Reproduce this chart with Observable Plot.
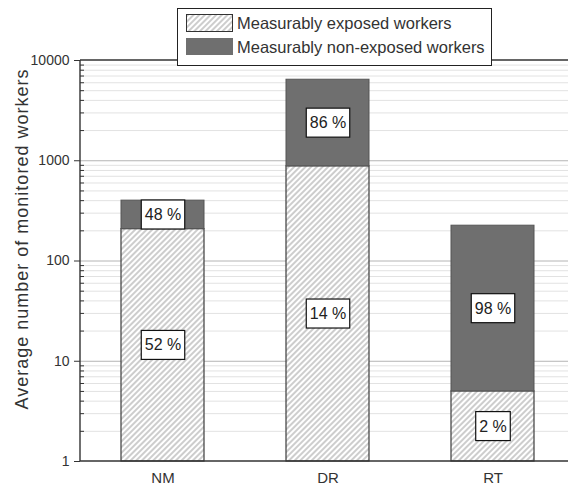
<!DOCTYPE html>
<html>
<head>
<meta charset="utf-8">
<script src="https://cdn.jsdelivr.net/npm/d3@7"></script>
<script src="https://cdn.jsdelivr.net/npm/@observablehq/plot@0.6"></script>
<style>
  body { margin: 0; background: #fff; font-family: "Liberation Sans", Arial, sans-serif; }
  #chart { position: relative; width: 568px; height: 487px; }
  .legend {
    position: absolute; left: 177px; top: 8px; width: 313px; height: 56px;
    border: 1.5px solid #222; background: #fff; color: #333;
  }
  .legend .key { position: absolute; left: 7.5px; }
  .legend .name { position: absolute; left: 59px; font-size: 16.5px; line-height: 20px; white-space: nowrap; }
</style>
</head>
<body>
<div id="chart"></div>
<script>
// Average number of monitored workers per sector, split into
// measurably exposed and measurably non-exposed workers.
const categories = ["NM", "DR", "RT"];
const exposed = [208, 880, 5];
const nonExposed = [192, 5550, 220];
const seriesNames = ["Measurably exposed workers", "Measurably non-exposed workers"];
const yTicks = [1, 10, 100, 1000, 10000];
const yLabel = "Average number of monitored workers";

const darkFill = "#6f6f6f";
const hatchStroke = "#9c9c9c";

// minor gridline values: 2..9 within each decade
const minorTicks = [];
for (let e = 0; e < 4; e++) for (let m = 2; m <= 9; m++) minorTicks.push(m * 10 ** e);

// one record per stacked segment; exposed sits on the axis baseline (1)
const segments = categories.flatMap((cat, i) => {
  const total = exposed[i] + nonExposed[i];
  return [
    {cat, series: seriesNames[0], y1: 1, y2: exposed[i], share: Math.round(100 * exposed[i] / total)},
    {cat, series: seriesNames[1], y1: exposed[i], y2: total, share: Math.round(100 * nonExposed[i] / total)}
  ];
});

function hatchPattern(id) {
  const defs = d3.create("svg:defs");
  const p = defs.append("pattern")
    .attr("id", id)
    .attr("patternUnits", "userSpaceOnUse")
    .attr("width", 4).attr("height", 4)
    .attr("patternTransform", "rotate(45)");
  p.append("rect").attr("width", 4).attr("height", 4).attr("fill", "#fff");
  p.append("line").attr("x1", 2).attr("x2", 2).attr("y1", 0).attr("y2", 4)
    .attr("stroke", hatchStroke).attr("stroke-width", 1);
  return defs;
}

// left axis line plus top and bottom frame lines
function frameLines(index, scales, values, dims) {
  const g = d3.create("svg:g").attr("stroke", "#333").attr("stroke-width", 1.4).attr("fill", "none");
  const x0 = dims.marginLeft, x1 = dims.width;
  const yTop = scales.y(yTicks[yTicks.length - 1]), yBot = scales.y(yTicks[0]);
  g.append("line").attr("x1", x0).attr("x2", x1).attr("y1", yTop).attr("y2", yTop);
  g.append("line").attr("x1", x0).attr("x2", x1).attr("y1", yBot).attr("y2", yBot);
  g.append("line").attr("x1", x0).attr("x2", x0).attr("y1", yTop).attr("y2", yBot);
  return g.node();
}

const chart = Plot.plot({
  width: 568,
  height: 487,
  marginTop: 60,
  marginBottom: 26,
  marginLeft: 80,
  marginRight: 0,
  style: {fontFamily: "'Liberation Sans', Arial, sans-serif", color: "#333", background: "#fff", overflow: "visible"},
  x: {domain: categories, range: [80, 575], paddingInner: 0.5, paddingOuter: 0.25},
  y: {type: "log", domain: [yTicks[0], yTicks[yTicks.length - 1]]},
  marks: [
    () => hatchPattern("hatch").node(),
    Plot.ruleY(minorTicks, {stroke: "#e2e2e2", strokeWidth: 1}),
    Plot.ruleY(yTicks.slice(1, -1), {stroke: "#b4b4b4", strokeWidth: 1}),
    Plot.barY(segments.filter(d => d.series === seriesNames[0]), {
      x: "cat", y1: "y1", y2: "y2", fill: "url(#hatch)", stroke: "#3c3c3c", strokeWidth: 1.2
    }),
    Plot.barY(segments.filter(d => d.series === seriesNames[1]), {
      x: "cat", y1: "y1", y2: "y2", fill: darkFill, stroke: "#555", strokeWidth: 1
    }),
    frameLines,
    Plot.axisY({ticks: yTicks, tickFormat: d => String(d), tickSize: 6, tickPadding: 5, fontSize: 14, label: null, stroke: "#333"}),
    Plot.axisY({ticks: minorTicks, tickSize: -4, text: null, label: null, stroke: "#333"}),
    Plot.axisX({tickSize: 0, tickPadding: 11, fontSize: 15, label: null}),
    Plot.text([yLabel], {frameAnchor: "left", textAnchor: "middle", rotate: -90, dx: -58, dy: -22, fontSize: 18, fill: "#333"}),
    Plot.text(segments, {
      x: "cat",
      y: d => Math.sqrt(d.y1 * d.y2),
      text: d => `${d.share} %`,
      fontSize: 16,
      fill: "#222"
    })
  ]
});

const root = document.getElementById("chart");
root.appendChild(chart);

// y title letter spacing
d3.select(chart).selectAll("text").filter(function () { return this.textContent === yLabel; })
  .attr("letter-spacing", "1px");

// white boxes with a black border behind the share labels
d3.select(chart).selectAll("text").filter(function () { return / %$/.test(this.textContent); })
  .each(function () {
    const b = this.getBBox();
    const padX = 3.5, padY = 6;
    const rect = document.createElementNS("http://www.w3.org/2000/svg", "rect");
    rect.setAttribute("x", b.x - padX);
    rect.setAttribute("y", b.y - padY);
    rect.setAttribute("width", b.width + 2 * padX);
    rect.setAttribute("height", b.height + 2 * padY);
    rect.setAttribute("fill", "#fff");
    rect.setAttribute("stroke", "#111");
    rect.setAttribute("stroke-width", 1.2);
    const t = this.getAttribute("transform");
    if (t) rect.setAttribute("transform", t);
    this.parentNode.insertBefore(rect, this);
  });

// legend
const legend = d3.select(root).append("div").attr("class", "legend");
const keyTops = [4.5, 28.5], keyHeights = [17, 16], nameTops = [4, 28];
seriesNames.forEach((name, i) => {
  const key = legend.append("svg").attr("class", "key")
    .style("top", keyTops[i] + "px")
    .attr("width", 47).attr("height", keyHeights[i] + 1);
  if (i === 0) {
    key.node().appendChild(hatchPattern("hatch-key").node());
    key.append("rect").attr("x", 0.5).attr("y", 0.5).attr("width", 46).attr("height", keyHeights[i])
      .attr("fill", "url(#hatch-key)").attr("stroke", "#333");
  } else {
    key.append("rect").attr("x", 0.5).attr("y", 0.5).attr("width", 46).attr("height", keyHeights[i])
      .attr("fill", darkFill).attr("stroke", darkFill);
  }
  legend.append("div").attr("class", "name").style("top", nameTops[i] + "px").text(name);
});
</script>
</body>
</html>
